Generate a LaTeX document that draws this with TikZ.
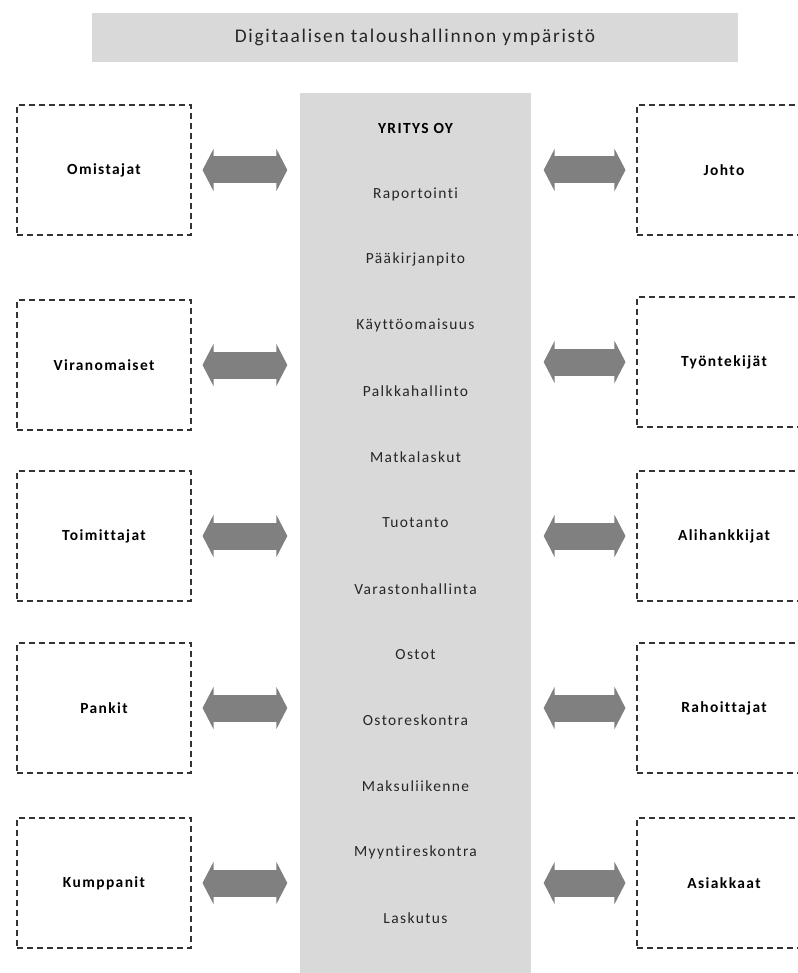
\documentclass[tikz,border=0pt]{standalone}
\usepackage{fontspec}
\setmainfont[LetterSpace=9,Ligatures={NoCommon}]{Carlito}
\usetikzlibrary{arrows.meta}
\begin{document}
\begin{tikzpicture}[x=0.75pt,y=-0.75pt,
  panel/.style={fill=black!15,draw=none},
  party/.style={draw=black!80,line width=0.8pt,dash pattern=on 4.5pt off 3pt,
    minimum width=130.5pt,minimum height=97.5pt,inner sep=0pt,
    font=\fontsize{11.6}{14}\selectfont\bfseries},
  item/.style={font=\fontsize{11.6}{14}\selectfont,text=black!85},
  link/.style={draw=black!50,line width=20.25pt,
    {Triangle[length=8.25pt,width=31.5pt]}-{Triangle[length=8.25pt,width=31.5pt]},
    shorten <=8.25pt,shorten >=9.5pt}]
\useasboundingbox (0,0) rectangle (798,973);
\clip (0,0) rectangle (798,973);
% title bar
\node[panel,minimum width=484.5pt,minimum height=36.75pt,inner sep=0pt,
  font=\fontsize{14.5}{17}\selectfont,text=black!85] (title) at (415,37.5)
  {Digitaalisen taloushallinnon ympäristö};
% company column
\path[panel] (300,93) rectangle (531,973);
\coordinate (colL) at (300,500);
\coordinate (colR) at (531,500);
% column contents
\foreach \t [count=\i from 0] in {Raportointi,Pääkirjanpito,Käyttöomaisuus,
  Palkkahallinto,Matkalaskut,Tuotanto,Varastonhallinta,Ostot,Ostoreskontra,
  Maksuliikenne,Myyntireskontra,Laskutus}
  \node[item] (it\i) at (415.5,{194+\i*65.8}) {\t};
\node[item,font=\fontsize{11.6}{14}\selectfont\bfseries,text=black] (yritys) at (415.5,128) {YRITYS OY};
% stakeholders on the left
\node[party] (omistajat)    at (104,170) {Omistajat};
\node[party] (viranomaiset) at (104,365) {Viranomaiset};
\node[party] (toimittajat)  at (104,536) {Toimittajat};
\node[party] (pankit)       at (104,708) {Pankit};
\node[party] (kumppanit)    at (104,883) {Kumppanit};
% stakeholders on the right
\node[party] (johto)        at (724,170) {Johto};
\node[party] (tyontekijat)  at (724,362) {Työntekijät};
\node[party] (alihankkijat) at (724,536) {Alihankkijat};
\node[party] (rahoittajat)  at (724,708) {Rahoittajat};
\node[party] (asiakkaat)    at (724,883) {Asiakkaat};
% two-way links to the company
\foreach \n in {omistajat,viranomaiset,toimittajat,pankit,kumppanit}
  \draw[link] (\n.east) -- (\n.east -| colL);
\foreach \n in {johto,tyontekijat,alihankkijat,rahoittajat,asiakkaat}
  \draw[link] (\n.west) -- (\n.west -| colR);
\end{tikzpicture}
\end{document}
